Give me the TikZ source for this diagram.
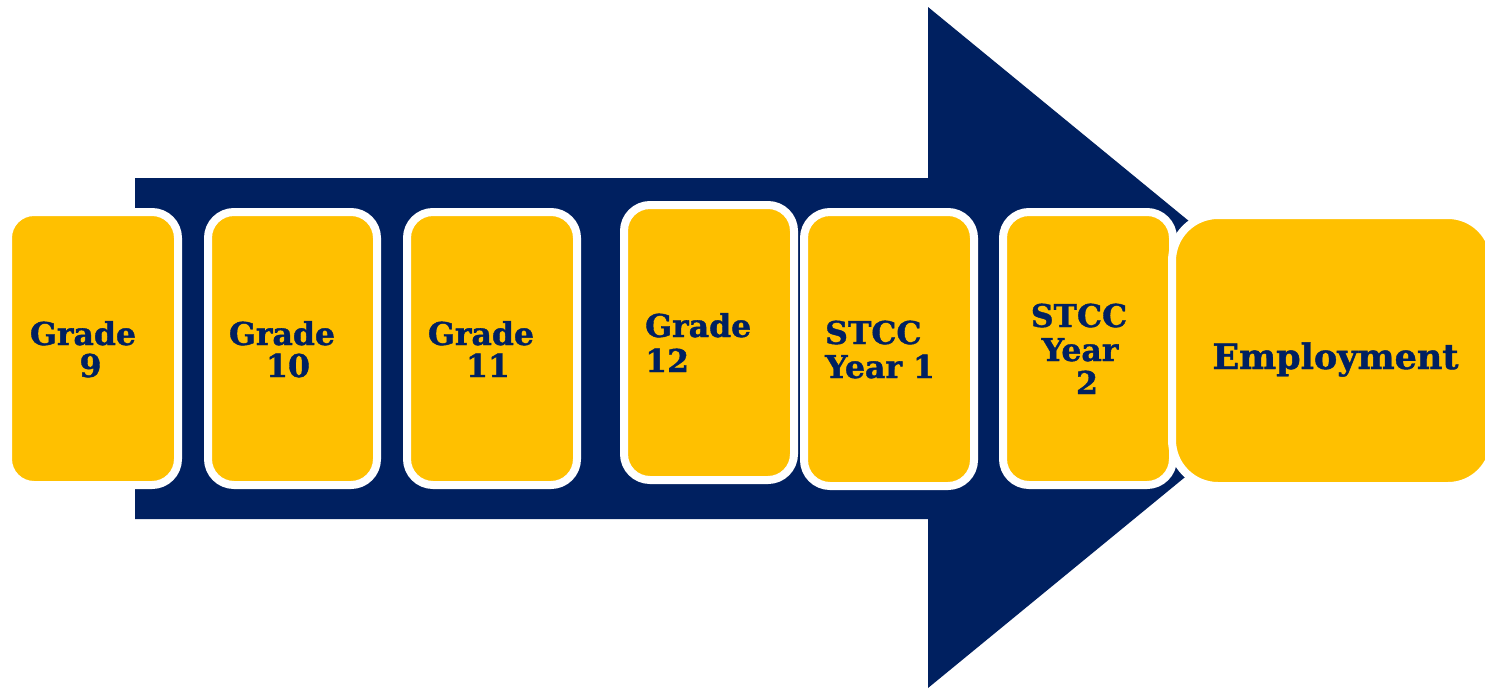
\documentclass[tikz,border=0pt]{standalone}
\usepackage{fontspec}
\setmainfont{DejaVu Serif}[BoldFeatures={FakeBold=1.2}]
\definecolor{navy}{RGB}{0,32,96}
\definecolor{gold}{RGB}{255,192,0}
\begin{document}
\begin{tikzpicture}[x=1pt,y=-1pt,
  box/.style={draw=white,line width=8pt,fill=gold,rounded corners=26pt,inner sep=0pt,outer sep=0pt},
  bigbox/.style={box,rounded corners=46pt},
  lbl/.style={text=navy,font=\bfseries\fontsize{31.5}{34}\selectfont,inner sep=0pt,anchor=base},
  lblw/.style={lbl,anchor=base west},
  biglbl/.style={lbl,font=\bfseries\fontsize{35}{38}\selectfont}]
\path[use as bounding box] (0,0) rectangle (1485,688);
\fill[white] (0,0) rectangle (1485,688);
\begin{scope}
\clip (0,0) rectangle (1485,688);
% arrow
\fill[navy] (135,178) -- (928,178) -- (928,7) -- (1343,347.5) -- (928,688) -- (928,519) -- (135,519) -- cycle;
% boxes
\node[box,minimum width=170pt,minimum height=273pt] (b9) at (93,348.5) {};
\node[box,minimum width=169pt,minimum height=273pt] (b10) at (292.5,348.5) {};
\node[box,minimum width=170pt,minimum height=273pt] (b11) at (492,348.5) {};
\node[box,minimum width=170pt,minimum height=275pt] (b12) at (709,342.5) {};
\node[box,minimum width=170pt,minimum height=274pt] (s1) at (889,349) {};
\node[box,minimum width=170pt,minimum height=273pt] (s2) at (1088,348.5) {};
\node[bigbox,minimum width=322pt,minimum height=271pt] (emp) at (1333,350.5) {};
\end{scope}
% labels
\node[lbl] (t9a) at (83,345) {Grade};
\node[lbl] (t9b) at (90.5,377) {9};
\node[lbl] (t10a) at (282,345) {Grade};
\node[lbl] (t10b) at (288,377) {10};
\node[lbl] (t11a) at (481,345) {Grade};
\node[lbl] (t11b) at (488,377) {11};
\node[lblw] (t12a) at (645,337) {Grade};
\node[lblw] (t12b) at (645,372) {12};
\node[lblw] (s1a) at (825,344) {STCC};
\node[lblw] (s1b) at (825,378) {Year 1};
\node[lbl] (s2a) at (1079,327) {STCC};
\node[lbl] (s2b) at (1080,361) {Year};
\node[lbl] (s2c) at (1087,394) {2};
\node[biglbl] (empt) at (1335.5,369) {Employment};
\end{tikzpicture}
\end{document}
